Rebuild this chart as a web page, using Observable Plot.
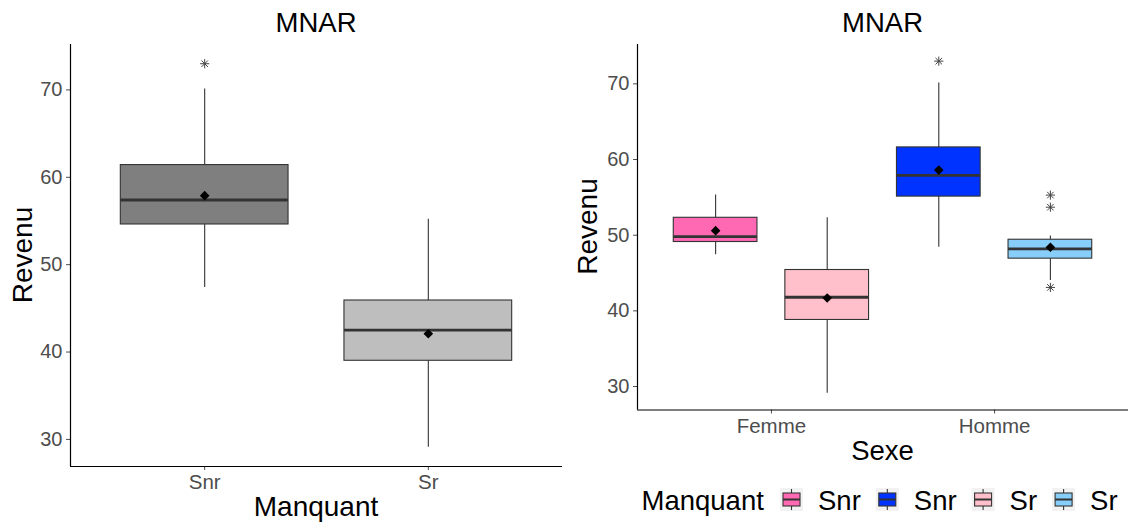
<!DOCTYPE html>
<html><head><meta charset="utf-8">
<script src="https://cdn.jsdelivr.net/npm/d3@7"></script>
<script src="https://cdn.jsdelivr.net/npm/@observablehq/plot@0.6"></script>
<style>
body{margin:0;background:#fff;}
#wrap{position:relative;width:1129px;height:523px;overflow:hidden;font-family:"Liberation Sans",Arial,sans-serif;}
#wrap svg{position:absolute;top:0;}
</style></head><body><div id="wrap"></div>
<script>
// ---------- Left panel: Revenu by Manquant ----------
const leftCats  = ["Snr", "Sr"];
const leftLo    = [47.4, 29.1];
const leftQ1    = [54.6, 39.0];
const leftMed   = [57.4, 42.5];
const leftQ3    = [61.4, 45.9];
const leftHi    = [70.1, 55.2];
const leftMean  = [57.9, 42.1];
const leftOut   = [[73.0], []];
const leftFill  = ["#7F7F7F", "#BEBEBE"];

// ---------- Right panel: Revenu by Sexe, dodged by Manquant ----------
const sexes      = ["Femme", "Homme"];
const manquants  = ["Snr", "Sr"];
const rightSexe  = ["Femme", "Femme", "Homme", "Homme"];
const rightManq  = ["Snr", "Sr", "Snr", "Sr"];
const rightLo    = [47.4, 29.1, 48.4, 44.0];
const rightQ1    = [49.1, 38.8, 55.1, 46.9];
const rightMed   = [49.8, 41.8, 57.9, 48.2];
const rightQ3    = [52.3, 45.4, 61.6, 49.4];
const rightHi    = [55.3, 52.3, 70.1, 49.9];
const rightMean  = [50.6, 41.7, 58.6, 48.4];
const rightOut   = [[], [], [73.0], [55.3, 53.7, 43.1]];
const rightFill  = ["#FF69B4", "#FFC0CB", "#0033FF", "#87CEFA"];

// legend (order as in reference)
const legendTitle  = "Manquant";
const legendLabels = ["Snr", "Snr", "Sr", "Sr"];
const legendFills  = ["#FF69B4", "#0033FF", "#FFC0CB", "#87CEFA"];

const yTicks = [30, 40, 50, 60, 70];
const FONT = "Liberation Sans, Arial, sans-serif";

// custom symbols
const asterisk = {draw(ctx, size) {
  const r = Math.sqrt(size / Math.PI), d = r * Math.SQRT1_2;
  ctx.moveTo(-r, 0); ctx.lineTo(r, 0);
  ctx.moveTo(0, -r); ctx.lineTo(0, r);
  ctx.moveTo(-d, -d); ctx.lineTo(d, d);
  ctx.moveTo(-d, d); ctx.lineTo(d, -d);
}};
const diamond = {draw(ctx, size) {
  const r = Math.sqrt(size / Math.PI);
  ctx.moveTo(0, -r); ctx.lineTo(r, 0); ctx.lineTo(0, r); ctx.lineTo(-r, 0); ctx.closePath();
}};

// build rows: x = category position (1-based) + dodge offset
const leftRows = leftCats.map((c, i) => ({
  x: i + 1, x1: i + 1 - 0.375, x2: i + 1 + 0.375,
  lo: leftLo[i], q1: leftQ1[i], med: leftMed[i], q3: leftQ3[i], hi: leftHi[i],
  mean: leftMean[i], fill: leftFill[i]
}));
const leftOutRows = leftOut.flatMap((vs, i) => vs.map(v => ({x: i + 1, y: v})));

const rightRows = rightSexe.map((s, i) => {
  const c = sexes.indexOf(s) + 1 + (manquants.indexOf(rightManq[i]) - 0.5) * 0.5;
  return {x: c, x1: c - 0.1875, x2: c + 0.1875,
    lo: rightLo[i], q1: rightQ1[i], med: rightMed[i], q3: rightQ3[i], hi: rightHi[i],
    mean: rightMean[i], fill: rightFill[i]};
});
const rightOutRows = rightOut.flatMap((vs, i) => vs.map(v => ({x: rightRows[i].x, y: v})));

const yDomain = [26.9, 75.2];
const xDomain = [0.4, 2.6];

function panel(rows, outRows, cats, o) {
  return Plot.plot({
    width: o.width, height: o.height,
    marginLeft: o.ml, marginRight: o.mr, marginTop: o.mt, marginBottom: o.mb,
    style: {fontFamily: FONT, background: "transparent", overflow: "visible"},
    x: {domain: xDomain, axis: null},
    y: {domain: yDomain, axis: null},
    color: {type: "identity"},
    marks: [
      Plot.ruleX(rows, {x: "x", y1: "lo", y2: "q1", stroke: "#333333", strokeWidth: 1.1}),
      Plot.ruleX(rows, {x: "x", y1: "q3", y2: "hi", stroke: "#333333", strokeWidth: 1.1}),
      Plot.rect(rows, {x1: "x1", x2: "x2", y1: "q1", y2: "q3", fill: "fill", stroke: "#333333", strokeWidth: 1.1}),
      Plot.ruleY(rows, {y: "med", x1: "x1", x2: "x2", stroke: "#333333", strokeWidth: 2.8}),
      Plot.dot(rows, {x: "x", y: "mean", symbol: diamond, r: 4.8, fill: "black", stroke: "none"}),
      Plot.dot(outRows, {x: "x", y: "y", symbol: asterisk, r: 4.6, fill: "none", stroke: "#444444", strokeWidth: 1}),
      Plot.axisY({ticks: yTicks, tickSize: 4, tickPadding: 4, fontSize: 20, color: "#4D4D4D", label: null}),
      Plot.axisX({ticks: [1, 2], tickFormat: d => cats[d - 1], tickSize: 4, tickPadding: 4, fontSize: 20.5, color: "#4D4D4D", label: null}),
      Plot.ruleX([xDomain[0]], {stroke: "black", strokeWidth: 1.2}),
      Plot.ruleY([yDomain[0]], {stroke: "black", strokeWidth: 1.2})
    ]
  });
}

const wrap = document.getElementById("wrap");
const left = panel(leftRows, leftOutRows, leftCats, {width: 565, height: 523, ml: 70, mr: 3, mt: 44, mb: 57});
left.style.left = "0px";
wrap.appendChild(left);
const right = panel(rightRows, rightOutRows, sexes, {width: 564, height: 523, ml: 72, mr: 1, mt: 44, mb: 113.5});
right.style.left = "565px";
wrap.appendChild(right);

// overlay: titles, axis labels, legend
const ov = d3.select(wrap).append("svg")
  .attr("width", 1129).attr("height", 523)
  .style("left", "0px").style("pointer-events", "none")
  .attr("font-family", FONT);

function txt(x, y, s, size, anchor = "middle", rot = 0) {
  return ov.append("text")
    .attr("transform", `translate(${x},${y}) rotate(${rot})`)
    .attr("text-anchor", anchor).attr("font-size", size).attr("fill", "black").text(s);
}
txt(316, 32, "MNAR", 27.5);
txt(882.5, 32, "MNAR", 27.5);
txt(31.5, 255, "Revenu", 28, "middle", -90);
txt(597, 226.5, "Revenu", 28, "middle", -90);
txt(316, 516, "Manquant", 28);
txt(882.5, 460, "Sexe", 27.5);

// legend
txt(641.5, 510, legendTitle, 27.5, "start");
let lx = 780;
const keySize = 23, ky = 488;
legendLabels.forEach((lab, i) => {
  const g = ov.append("g").attr("transform", `translate(${lx},${ky})`);
  g.append("rect").attr("width", keySize).attr("height", keySize).attr("fill", "#F2F2F2");
  g.append("line").attr("x1", keySize / 2).attr("x2", keySize / 2).attr("y1", 1).attr("y2", keySize - 1)
    .attr("stroke", "#333333").attr("stroke-width", 1.1);
  g.append("rect").attr("x", 3).attr("y", 5).attr("width", keySize - 6).attr("height", keySize - 10)
    .attr("fill", legendFills[i]).attr("stroke", "#333333").attr("stroke-width", 1.1);
  g.append("line").attr("x1", 3).attr("x2", keySize - 3).attr("y1", keySize / 2).attr("y2", keySize / 2)
    .attr("stroke", "#333333").attr("stroke-width", 2);
  const t = txt(lx + 38, 510, lab, 27.5, "start");
  lx += 38 + t.node().getComputedTextLength() + 15;
});
</script></body></html>
